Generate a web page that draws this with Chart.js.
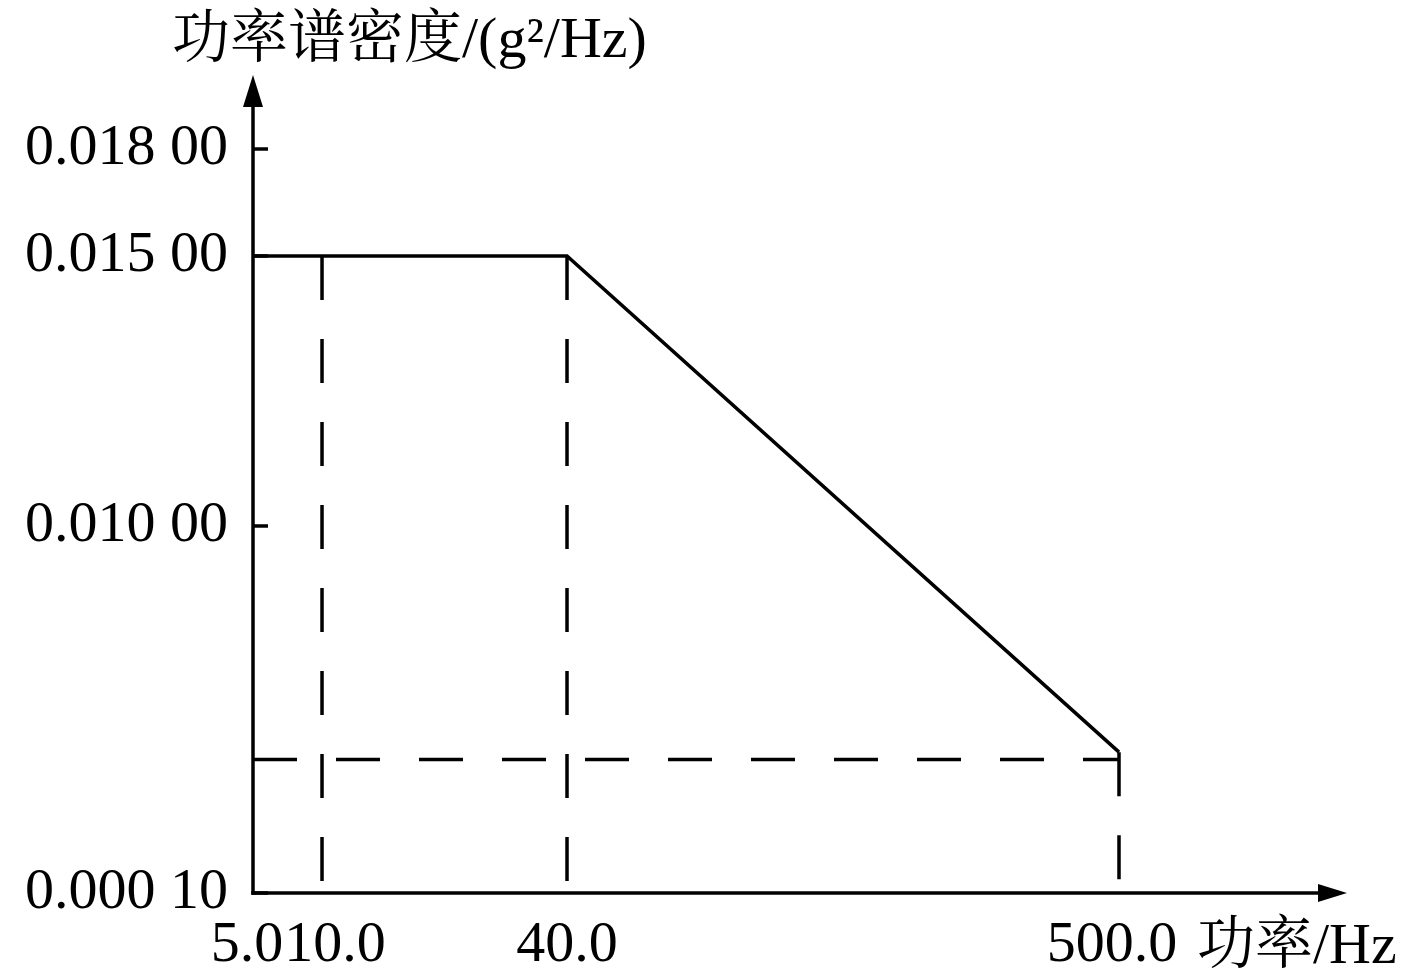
<!DOCTYPE html>
<html>
<head>
<meta charset="utf-8">
<script src="https://cdn.jsdelivr.net/npm/chart.js@4.4.1/dist/chart.umd.min.js"></script>
<style>
  html, body { margin: 0; padding: 0; background: #fff; }
  #wrap { width: 1417px; height: 980px; position: relative; }
</style>
</head>
<body>
<div id="wrap"><canvas id="c"></canvas></div>
<script>
// ---- data ----
const freqHz = [5.0, 10.0, 40.0, 500.0];               // breakpoint frequencies
const xTickLabels = ['5.0', '10.0', '40.0', '500.0'];
const psdProfile = [0.015, 0.015, 0.015, 0.0039];      // PSD (g^2/Hz) at each frequency
const psdGuideLevel = 0.0037;                           // level of horizontal dashed guide
const yTickValues = [0.0001, 0.010, 0.015, 0.018];
const yTickLabels = ['0.000 10', '0.010 00', '0.015 00', '0.018 00'];
const yTitle = '功率谱密度/(g²/Hz)';
const xTitle = '功率/Hz';

// ---- layout (schematic, non-uniform axes) ----
const SCALE_LAYOUT = {
  x: { values: freqHz, fractions: [0, 0.0797, 0.3626, 1], labelShift: [-6, 13, 0, -7] },
  y: { values: yTickValues, fractions: [0, 0.4933, 0.8562, 1], labelShift: [0, 0, 0, 0] }
};
const SERIF = "'Liberation Serif', 'Times New Roman', 'Noto Serif CJK SC', 'Noto Sans CJK SC', serif";
const LW = 3.5;

class PiecewiseScale extends Chart.LinearScale {
  _lay() { return SCALE_LAYOUT[this.axis]; }
  buildTicks() { return this._lay().values.map(v => ({ value: v })); }
  _frac(v) {
    const { values, fractions } = this._lay();
    let i = 1;
    while (i < values.length - 1 && v > values[i]) i++;
    const t = (v - values[i - 1]) / (values[i] - values[i - 1]);
    return fractions[i - 1] + t * (fractions[i] - fractions[i - 1]);
  }
  getPixelForValue(v) { return this.getPixelForDecimal(this._frac(v)); }
  getValueForPixel(p) {
    const d = this.getDecimalForPixel(p);
    const { values, fractions } = this._lay();
    let i = 1;
    while (i < fractions.length - 1 && d > fractions[i]) i++;
    const t = (d - fractions[i - 1]) / (fractions[i] - fractions[i - 1]);
    return values[i - 1] + t * (values[i] - values[i - 1]);
  }
  getPixelForTick(i) {
    return this.getPixelForValue(this.ticks[i].value) + (this._lay().labelShift[i] || 0);
  }
}
PiecewiseScale.id = 'piecewise';
PiecewiseScale.defaults = {};
Chart.register(PiecewiseScale);

const yMin = yTickValues[0];
const dashed = { borderColor: '#000', borderWidth: LW, borderDash: [44, 39], pointRadius: 0, fill: false, borderCapStyle: 'butt', clip: 10 };

const datasets = [
  { data: freqHz.map((f, i) => ({ x: f, y: psdProfile[i] })), borderColor: '#000', borderWidth: LW, pointRadius: 0, fill: false, borderJoinStyle: 'miter', clip: 10 },
  { data: [{ x: freqHz[0], y: psdGuideLevel }, { x: freqHz[3], y: psdGuideLevel }], ...dashed }
];
for (let i = 1; i < freqHz.length; i++) {
  datasets.push({ data: [{ x: freqHz[i], y: psdProfile[i] }, { x: freqHz[i], y: yMin }], ...dashed });
}

const axesPlugin = {
  id: 'axesArrows',
  afterDatasetsDraw(chart) {
    const ctx = chart.ctx;
    const xs = chart.scales.x, ys = chart.scales.y;
    const ox = xs.getPixelForValue(freqHz[0]);
    const oy = ys.getPixelForValue(yMin);
    ctx.save();
    ctx.strokeStyle = '#000';
    ctx.fillStyle = '#000';
    ctx.lineWidth = LW;
    ctx.lineCap = 'butt';
    // y axis
    const yTip = 75;
    ctx.beginPath(); ctx.moveTo(ox, oy + LW / 2); ctx.lineTo(ox, yTip + 20); ctx.stroke();
    ctx.beginPath(); ctx.moveTo(ox, yTip); ctx.lineTo(ox - 10, yTip + 32); ctx.lineTo(ox + 10, yTip + 32); ctx.closePath(); ctx.fill();
    // x axis
    const xTip = 1347;
    ctx.beginPath(); ctx.moveTo(ox - LW / 2, oy); ctx.lineTo(xTip - 20, oy); ctx.stroke();
    ctx.beginPath(); ctx.moveTo(xTip, oy); ctx.lineTo(xTip - 29, oy - 9); ctx.lineTo(xTip - 29, oy + 9); ctx.closePath(); ctx.fill();
    // inner tick marks on y axis
    ys.ticks.forEach(t => {
      const py = ys.getPixelForValue(t.value);
      ctx.beginPath(); ctx.moveTo(ox, py); ctx.lineTo(ox + 15, py); ctx.stroke();
    });
    // titles
    ctx.font = '58px ' + SERIF;
    ctx.textBaseline = 'alphabetic';
    ctx.textAlign = 'left';
    ctx.fillText(yTitle, 172, 57);
    ctx.fillText(xTitle, 1197, 963);
    ctx.restore();
  }
};

new Chart(document.getElementById('c'), {
  type: 'line',
  data: { datasets },
  plugins: [axesPlugin],
  options: {
    responsive: true,
    maintainAspectRatio: false,
    animation: false,
    layout: { padding: { top: 149, right: 298, left: 0, bottom: 0 } },
    plugins: { legend: { display: false }, tooltip: { enabled: false } },
    elements: { line: { tension: 0 } },
    scales: {
      x: {
        type: 'piecewise',
        position: 'bottom',
        min: freqHz[0], max: freqHz[3],
        grid: { display: false, drawTicks: false },
        border: { display: false },
        ticks: {
          autoSkip: false, maxRotation: 0, padding: 18, color: '#000',
          font: { family: SERIF, size: 58 },
          callback: (v, i) => xTickLabels[i]
        },
        afterFit: s => { s.height = 87; }
      },
      y: {
        type: 'piecewise',
        position: 'left',
        min: yTickValues[0], max: yTickValues[3],
        grid: { display: false, drawTicks: false },
        border: { display: false },
        ticks: {
          autoSkip: false, padding: 25, color: '#000',
          font: { family: SERIF, size: 58 },
          callback: (v, i) => yTickLabels[i]
        },
        afterFit: s => { s.width = 253; }
      }
    }
  }
});
</script>
</body>
</html>
